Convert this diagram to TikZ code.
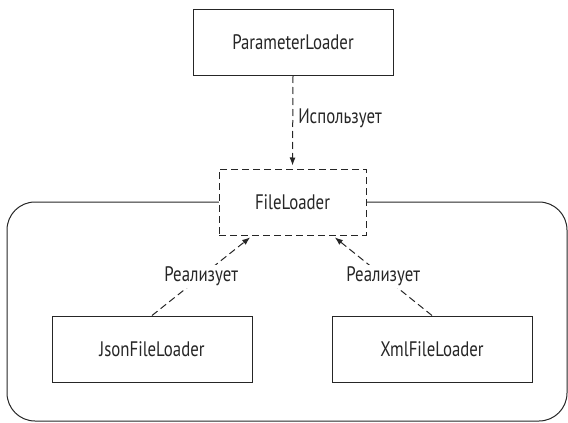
\documentclass[tikz,border=0pt]{standalone}
\usepackage{fontspec}
\setmainfont[FakeStretch=0.8]{PT Sans}
\usetikzlibrary{arrows.meta,calc}
\tikzset{
  box/.style={draw, line width=1pt, fill=white, minimum width=200pt, minimum height=66pt, inner sep=0pt},
  ifacebox/.style={box, dash pattern=on 7pt off 4pt, minimum width=147pt},
  dep/.style={line width=1pt, dash pattern=on 7pt off 4pt, -{Latex[length=8pt,width=6pt]}, shorten >=3pt},
  lbl/.style={fill=white, inner sep=2pt},
  group/.style={line width=1pt, rounded corners=28pt}
}
\begin{document}
\begin{tikzpicture}[x=1pt, y=-1pt, font=\fontsize{21}{25}\selectfont, color={black!85}]
  \useasboundingbox (0,0) rectangle (568,423);
  % container of the implementations
  \draw[group] (7,202) rectangle (567,421);
  \node[box] (pl) at (293,42.5) {ParameterLoader};
  \node[ifacebox] (fl) at (292.5,202) {FileLoader};
  \node[box] (json) at (152,349) {JsonFileLoader};
  \node[box] (xml) at (432,349) {XmlFileLoader};
  \coordinate (flL) at ($(fl.south)+(-40,0)$);
  \coordinate (flR) at ($(fl.south)+(40,0)$);
  \draw[dep] (pl.south) -- node[right, inner sep=5pt, pos=0.46] {Использует} (fl.north);
  \draw[dep] (json.north) -- node[lbl, pos=0.49] {Реализует} (flL);
  \draw[dep] (xml.north) -- node[lbl, pos=0.49] {Реализует} (flR);
\end{tikzpicture}
\end{document}
